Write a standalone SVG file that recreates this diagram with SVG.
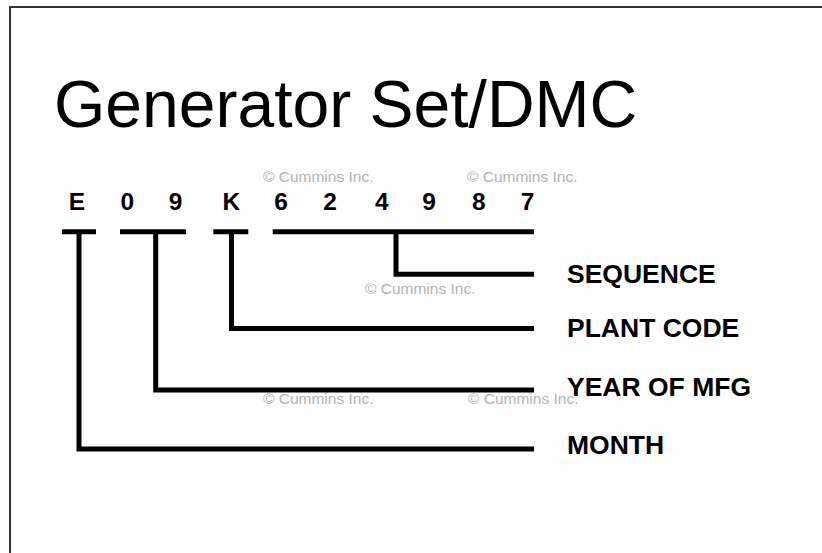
<svg xmlns="http://www.w3.org/2000/svg" width="822" height="553" viewBox="0 0 822 553">
<style>
.title{font-family:"Liberation Sans",Arial,sans-serif;font-size:66px;fill:#000}
.dig{font-family:"Liberation Sans",Arial,sans-serif;font-size:24.5px;font-weight:bold;fill:#000;text-anchor:middle}
.lbl{font-family:"Liberation Sans",Arial,sans-serif;font-size:26.5px;font-weight:bold;fill:#000}
.wm{font-family:"Liberation Sans",Arial,sans-serif;font-size:15.5px;fill:#b3b3b3}
.ln{fill:none;stroke:#000;stroke-width:5;stroke-linecap:butt;stroke-linejoin:miter}
</style>
<rect x="0" y="0" width="822" height="553" fill="#fff"/>
<rect x="10" y="7" width="900" height="900" fill="none" stroke="#333" stroke-width="2"/>
<g id="title"><text class="title" x="54" y="127">Generator Set/DMC</text></g>
<g id="watermarks">
<text class="wm" x="263" y="182">© Cummins Inc.</text>
<text class="wm" x="467" y="182">© Cummins Inc.</text>
<text class="wm" x="365" y="294">© Cummins Inc.</text>
<text class="wm" x="263" y="404">© Cummins Inc.</text>
<text class="wm" x="468" y="404">© Cummins Inc.</text>
</g>
<g id="code">
<text class="dig" x="77" y="210">E</text>
<text class="dig" x="127.3" y="210">0</text>
<text class="dig" x="175.5" y="210">9</text>
<text class="dig" x="231.3" y="210">K</text>
<text class="dig" x="281" y="210">6</text>
<text class="dig" x="330" y="210">2</text>
<text class="dig" x="381.7" y="210">4</text>
<text class="dig" x="429" y="210">9</text>
<text class="dig" x="478.8" y="210">8</text>
<text class="dig" x="527.5" y="210">7</text>
</g>
<g id="connectors">
<line class="ln" x1="62" y1="231.7" x2="96" y2="231.7"/>
<line class="ln" x1="120" y1="231.7" x2="186" y2="231.7"/>
<line class="ln" x1="213.3" y1="231.7" x2="248.3" y2="231.7"/>
<line class="ln" x1="272.7" y1="231.7" x2="534" y2="231.7"/>
<polyline class="ln" points="396,231.7 396,274.2 534,274.2"/>
<polyline class="ln" points="231.5,231.7 231.5,328.5 534,328.5"/>
<polyline class="ln" points="155.7,231.7 155.7,390 534,390"/>
<polyline class="ln" points="79,231.7 79,449 534,449"/>
</g>
<g id="label-sequence"><text class="lbl" x="567" y="283.3">SEQUENCE</text></g>
<g id="label-plant"><text class="lbl" x="567" y="337.3">PLANT CODE</text></g>
<g id="label-year"><text class="lbl" x="567" y="395.7">YEAR OF MFG</text></g>
<g id="label-month"><text class="lbl" x="567" y="454">MONTH</text></g>
</svg>
